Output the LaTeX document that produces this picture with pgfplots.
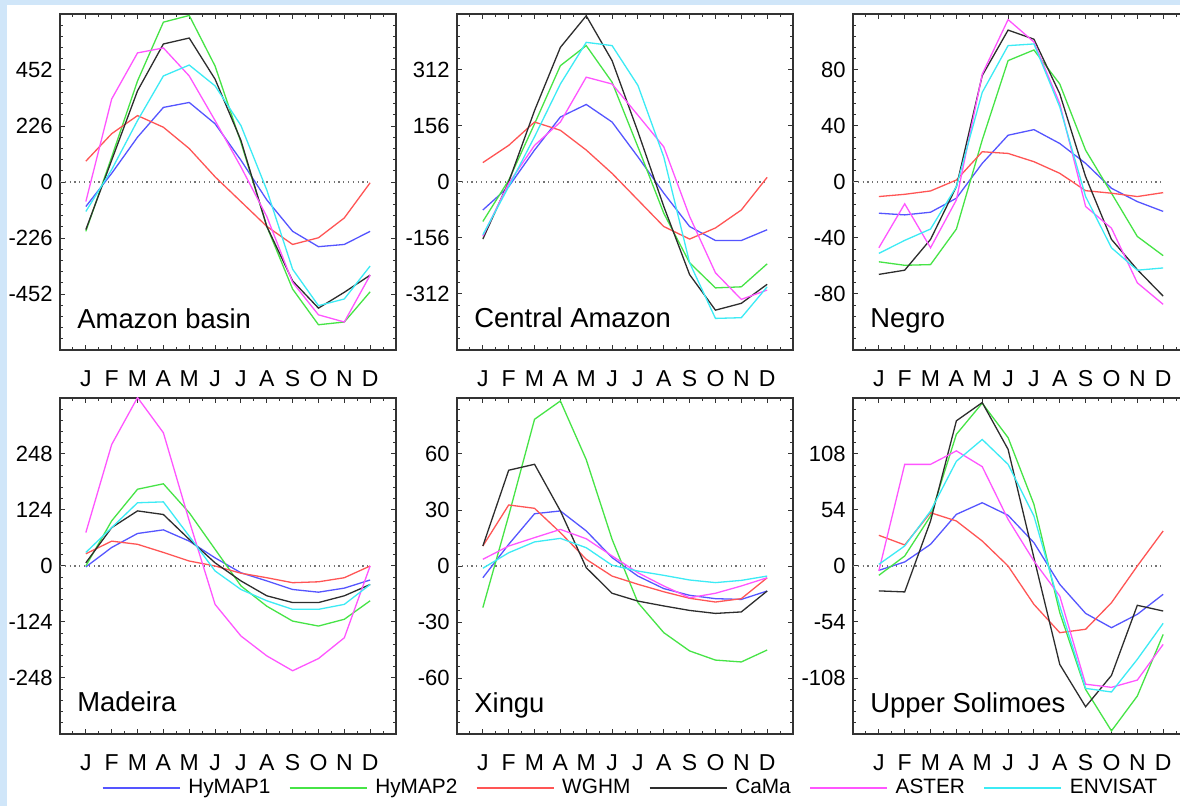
\documentclass[border=0pt]{standalone}
\usepackage{fontspec}
\setmainfont{Liberation Sans}
\usepackage{pgfplots}
\usepackage{pgfplotstable}
\pgfplotsset{compat=1.18}

\definecolor{bgblue}{RGB}{208,230,249}
\definecolor{chymapa}{RGB}{85,85,255}
\definecolor{chymapb}{RGB}{70,228,70}
\definecolor{cwghm}{RGB}{255,85,85}
\definecolor{ccama}{RGB}{45,45,45}
\definecolor{caster}{RGB}{255,85,255}
\definecolor{cenvi}{RGB}{60,235,245}

% monthly anomalies: HyMAP1 HyMAP2 WGHM CaMa ASTER ENVISAT
\pgfplotstableread{
m h1 h2 wg cama aster envi
1 -99 -199 84 -192 -79 -119
2 35 101 195 88 335 50
3 181 408 268 368 521 248
4 301 645 221 557 541 428
5 321 672 135 581 428 472
6 235 468 21 415 248 388
7 88 160 -79 168 61 228
8 -72 -179 -179 -179 -139 -32
9 -199 -432 -252 -399 -405 -352
10 -261 -576 -225 -509 -536 -499
11 -252 -565 -145 -445 -565 -472
12 -199 -443 -3 -376 -376 -339
}\amazon

\pgfplotstableread{
m h1 h2 wg cama aster envi
1 -78 -110 54 -159 -151 -147
2 -13 5 102 0 -4 -13
3 89 162 167 199 102 126
4 181 324 144 375 167 273
5 216 380 89 463 292 389
6 167 278 24 338 273 380
7 70 98 -50 140 186 269
8 -31 -87 -124 -68 98 70
9 -124 -225 -159 -258 -96 -225
10 -163 -295 -128 -357 -253 -380
11 -163 -292 -78 -338 -327 -378
12 -133 -228 13 -285 -301 -292
}\central

\pgfplotstableread{
m h1 h2 wg cama aster envi
1 -22.3 -57 -10.4 -66 -47 -51
2 -23.5 -59.5 -8.8 -63 -15.6 -41.7
3 -21.6 -59 -6.4 -41 -47 -33.6
4 -11.6 -33.6 1.4 -3.3 -12.8 -3.3
5 13.3 30 21.6 76 77 64
6 33.4 86.7 20.4 108.5 116 97.4
7 37.4 94.3 14.5 102 100 98.6
8 27.5 70 6.2 63 56 53.6
9 13.3 22.7 -6.2 3.8 -17.5 -10.4
10 -4.5 -8 -8 -41 -33 -47
11 -14 -38.9 -10.4 -62.6 -72 -63
12 -21 -52.6 -7.6 -81.5 -87.4 -61.4
}\negro

\pgfplotstableread{
m h1 h2 wg cama aster envi
1 -2 0 27 7 74 30
2 41 100 55 85 269 85
3 72 170 48 122 373 140
4 80 182 30 114 295 142
5 55 118 11 59 100 66
6 18 37 0 7 -85 -11
7 -15 -44 -16 -33 -155 -52
8 -33 -89 -26 -66 -199 -77
9 -52 -122 -37 -81 -232 -96
10 -58 -133 -35 -81 -205 -96
11 -49 -118 -26 -66 -159 -85
12 -31 -77 0 -41 0 -41
}\madeira

\pgfplotstableread{
m h1 h2 wg cama aster envi
1 -6.3 -22.3 10.7 10.7 3.6 -1.2
2 11.6 27 32.7 51.3 10.7 7.1
3 28 78.6 30.9 54.5 15.2 12.9
4 29.5 88.4 17.9 29.5 19.6 14.8
5 18.8 57 3.6 -0.9 14.6 9.8
6 4.5 14.3 -5.4 -14.6 5.4 0.4
7 -5.4 -19.6 -9.8 -18.8 -3.6 -2.7
8 -12.1 -35.7 -13.8 -21.4 -10.7 -5
9 -15.7 -45.5 -17.3 -23.8 -17 -7.5
10 -17.5 -50.4 -19.3 -25.4 -14.6 -8.9
11 -17.9 -51.4 -17.5 -24.6 -10.7 -7.7
12 -13.4 -45 -6.3 -13.4 -6.3 -5.4
}\xingu

\pgfplotstableread{
m h1 h2 wg cama aster envi
1 -4.2 -9 29.6 -24 -4.8 1.6
2 3.9 9.6 20.3 -25 98 19.3
3 20.9 48.2 51.4 43.4 98 53
4 49.8 127 43.4 140 111 101
5 61 157 24.1 157.6 95.8 122
6 48.9 123.8 0 112.5 45 98
7 22.5 59.5 -37 8 4.8 48.2
8 -17.7 -45 -64.3 -94.9 -29 -38.6
9 -45.7 -119 -61 -135.7 -114 -118
10 -59.5 -159 -35.4 -105.5 -117 -121.5
11 -46.6 -125.4 0 -37.9 -110 -90
12 -27.3 -66 33.8 -43.4 -75.6 -55.3
}\solimoes

\pgfplotsset{
  panel/.style={
    scale only axis, width=168pt, height=168pt, anchor=north west,
    xmin=0, xmax=13,
    xtick={1,...,12}, xticklabels={J,F,M,A,M,J,J,A,S,O,N,D},
    minor xtick={0.5,1.5,...,12.5},
    tick align=inside,
    major tick length=2.6pt, minor tick length=1.6pt,
    axis line style={line width=0.7pt, black!80},
    every tick/.style={black!80, line width=0.5pt},
    xticklabel style={font=\fontsize{11.5}{11.5}\selectfont, inner sep=0pt,
      anchor=north, text height=8.2pt, text depth=0pt, yshift=-10pt},
    yticklabel style={font=\fontsize{11}{11}\selectfont, inner sep=0pt,
      anchor=east, xshift=-3.5pt},
    every axis plot/.append style={line width=0.65pt},
    legend image code/.code={\draw[#1] (0pt,0pt) -- (38.5pt,0pt);},
  },
}
\tikzset{plabel/.style={anchor=base west, inner sep=0pt, xshift=8.5pt, yshift=11pt,
    font=\fontsize{13.7}{13.7}\selectfont}}

\newcommand{\allseries}[1]{%
  \addplot[black!55, line width=0.6pt, dash pattern=on 0.6pt off 1.8pt, forget plot]
    coordinates {(0,0) (12,0)};
  \addplot[chymapa] table[x=m, y=h1] {#1};
  \addplot[chymapb] table[x=m, y=h2] {#1};
  \addplot[cwghm] table[x=m, y=wg] {#1};
  \addplot[ccama] table[x=m, y=cama] {#1};
  \addplot[caster] table[x=m, y=aster] {#1};
  \addplot[cenvi] table[x=m, y=envi] {#1};
}

\begin{document}
\begin{tikzpicture}
\fill[bgblue] (0pt,0pt) rectangle (600pt,-410pt);
\fill[white] (3.5pt,-2.5pt) rectangle (600pt,-410pt);

% row 1
\begin{axis}[panel, at={(30pt,-7pt)},
  ymin=-678, ymax=678,
  ytick={-452,-226,0,226,452}, yticklabels={-452,-226,0,226,452},
  minor ytick={-678,-632.8,...,678}]
  \allseries{\amazon}
  \node[plabel] at (rel axis cs:0,0) {Amazon basin};
\end{axis}

\begin{axis}[panel, at={(228.5pt,-7pt)},
  ymin=-468, ymax=468,
  ytick={-312,-156,0,156,312}, yticklabels={-312,-156,0,156,312},
  minor ytick={-468,-436.8,...,468}]
  \allseries{\central}
  \node[plabel] at (rel axis cs:0,0) {Central Amazon};
\end{axis}

\begin{axis}[panel, at={(426.5pt,-7pt)},
  ymin=-120, ymax=120,
  ytick={-80,-40,0,40,80}, yticklabels={-80,-40,0,40,80},
  minor ytick={-120,-112,...,120}]
  \allseries{\negro}
  \node[plabel] at (rel axis cs:0,0) {Negro};
\end{axis}

% row 2
\begin{axis}[panel, at={(30pt,-199pt)},
  ymin=-372, ymax=372,
  ytick={-248,-124,0,124,248}, yticklabels={-248,-124,0,124,248},
  minor ytick={-372,-347.2,...,372},
  legend columns=-1,
  legend style={at={(0,0)}, anchor=west, xshift=21pt, yshift=-27pt,
    draw=none, fill=none, inner sep=0pt, outer sep=0pt,
    font=\fontsize{10.4}{10.4}\selectfont,
    nodes={inner sep=0pt},
    /tikz/every odd column/.append style={column sep=4pt},
    /tikz/every even column/.append style={column sep=9.3pt}}]
  \allseries{\madeira}
  \node[plabel] at (rel axis cs:0,0) {Madeira};
  \legend{HyMAP1,HyMAP2,WGHM,CaMa,ASTER,ENVISAT}
\end{axis}

\begin{axis}[panel, at={(228.5pt,-199pt)},
  ymin=-90, ymax=90,
  ytick={-60,-30,0,30,60}, yticklabels={-60,-30,0,30,60},
  minor ytick={-90,-84,...,90}]
  \allseries{\xingu}
  \node[plabel] at (rel axis cs:0,0) {Xingu};
\end{axis}

\begin{axis}[panel, at={(426.5pt,-199pt)},
  ymin=-162, ymax=162,
  ytick={-108,-54,0,54,108}, yticklabels={-108,-54,0,54,108},
  minor ytick={-162,-151.2,...,162}]
  \allseries{\solimoes}
  \node[plabel] at (rel axis cs:0,0) {Upper Solimoes};
\end{axis}

\pgfresetboundingbox
\path (0pt,0pt) rectangle (590pt,-403pt);
\end{tikzpicture}
\end{document}
